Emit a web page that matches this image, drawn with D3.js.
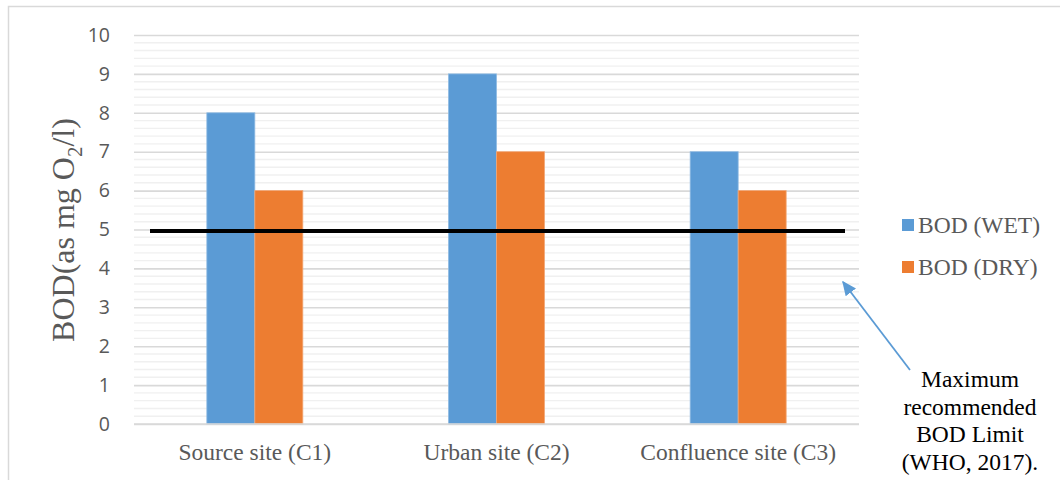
<!DOCTYPE html>
<html>
<head>
<meta charset="utf-8">
<script src="https://cdn.jsdelivr.net/npm/d3@7"></script>
<style>
  html, body { margin: 0; padding: 0; background: #fff; }
  svg { display: block; }
</style>
</head>
<body>
<svg id="chart" width="1060" height="480"></svg>
<script>
// Sampling sites along the river
const categories = ["Source site (C1)", "Urban site (C2)", "Confluence site (C3)"];
// BOD readings (mg O2/l) per season
const seriesNames = ["BOD (WET)", "BOD (DRY)"];
const wetValues = [8, 9, 7];
const dryValues = [6, 7, 6];
const seriesColors = ["#5B9BD5", "#ED7D31"];
// WHO maximum recommended BOD limit
const bodLimit = 5;
const yTicks = [0, 1, 2, 3, 4, 5, 6, 7, 8, 9, 10];
const noteLines = ["Maximum", "recommended", "BOD Limit", "(WHO, 2017)."];

const serif = "'Liberation Serif', 'DejaVu Serif', serif";
const svg = d3.select("#chart");
const plot = { left: 134, right: 859, top: 35, bottom: 424 };

// chart frame
svg.append("rect")
  .attr("x", 8.5).attr("y", 6.5)
  .attr("width", 1100).attr("height", 520)
  .attr("fill", "#fff").attr("stroke", "#d9d9d9").attr("stroke-width", 1.5);

const x = d3.scaleBand().domain(categories).range([plot.left, plot.right]);
const y = d3.scaleLinear().domain([0, 10]).range([plot.bottom, plot.top]);

// minor gridlines every 0.2
const minor = d3.range(0, 50).map(i => i * 0.2).filter(v => Math.abs(v - Math.round(v)) > 1e-6);
svg.append("g").selectAll("line").data(minor).join("line")
  .attr("x1", plot.left).attr("x2", plot.right)
  .attr("y1", d => y(d)).attr("y2", d => y(d))
  .attr("stroke", "#f0f0f0").attr("stroke-width", 1.4);

// major gridlines + tick labels via axis
const yAxis = d3.axisLeft(y).tickValues(yTicks).tickSize(-(plot.right - plot.left)).tickPadding(24).tickFormat(d3.format("d"));
const gy = svg.append("g").attr("transform", `translate(${plot.left},0)`).call(yAxis);
gy.select(".domain").remove();
gy.selectAll(".tick line").attr("stroke", "#d9d9d9").attr("stroke-width", 1.6);
gy.selectAll(".tick text")
  .attr("fill", "#595959")
  .style("font-family", "'Open Sans', 'Liberation Sans', sans-serif")
  .style("font-size", "19.5px");

// bars
const barW = 48;
const groups = categories.map((c, i) => ({ c, vals: [wetValues[i], dryValues[i]] }));
const g = svg.append("g");
groups.forEach(grp => {
  const cx = x(grp.c) + x.bandwidth() / 2;
  grp.vals.forEach((v, k) => {
    g.append("rect")
      .attr("x", cx - barW + k * barW)
      .attr("y", y(v))
      .attr("width", barW)
      .attr("height", y(0) - y(v))
      .attr("fill", seriesColors[k])
      .attr("stroke", k === 0 ? "#8fbbe3" : "#f2a777")
      .attr("stroke-width", 0.8);
  });
});

// x axis baseline and category labels
svg.append("line")
  .attr("x1", plot.left).attr("x2", plot.right)
  .attr("y1", y(0)).attr("y2", y(0))
  .attr("stroke", "#d9d9d9").attr("stroke-width", 1.6);
svg.append("g").selectAll("text").data(categories).join("text")
  .attr("x", d => x(d) + x.bandwidth() / 2)
  .attr("y", 460)
  .attr("text-anchor", "middle")
  .attr("fill", "#595959")
  .style("font-family", serif)
  .style("font-size", "23.5px")
  .text(d => d);

// limit line
svg.append("line")
  .attr("x1", 150).attr("x2", 845)
  .attr("y1", y(bodLimit) + 1.5).attr("y2", y(bodLimit) + 1.5)
  .attr("stroke", "#000").attr("stroke-width", 4);

// y axis title
const yt = svg.append("text")
  .attr("transform", "translate(74,230) rotate(-90)")
  .attr("text-anchor", "middle")
  .attr("fill", "#595959")
  .style("font-family", serif)
  .style("font-size", "32px");
yt.append("tspan").text("BOD(as mg O");
yt.append("tspan").attr("dy", 8).style("font-size", "21px").text("2");
yt.append("tspan").attr("dy", -8).text("/l)");

// legend
const legend = svg.append("g");
seriesNames.forEach((s, i) => {
  const ly = 225 + i * 42;
  legend.append("rect").attr("x", 902).attr("y", ly - 6).attr("width", 12).attr("height", 12).attr("fill", seriesColors[i]);
  legend.append("text")
    .attr("x", 918).attr("y", ly + 7.5)
    .attr("fill", "#595959")
    .style("font-family", serif)
    .style("font-size", "23.5px")
    .text(s);
});

// annotation arrow
const defs = svg.append("defs");
defs.append("marker").attr("id", "arrowhead")
  .attr("viewBox", "0 0 10 10").attr("refX", 9).attr("refY", 5)
  .attr("markerWidth", 8).attr("markerHeight", 8).attr("orient", "auto")
  .attr("markerUnits", "strokeWidth")
  .append("path").attr("d", "M0,0.5 L10,5 L0,9.5 z").attr("fill", "#5B9BD5");
svg.append("line")
  .attr("x1", 910).attr("y1", 370).attr("x2", 843).attr("y2", 282)
  .attr("stroke", "#5B9BD5").attr("stroke-width", 1.8)
  .attr("marker-end", "url(#arrowhead)");

// annotation text
svg.append("g").selectAll("text").data(noteLines).join("text")
  .attr("x", 970)
  .attr("y", (d, i) => 387 + i * 27.5)
  .attr("text-anchor", "middle")
  .attr("fill", "#000")
  .style("font-family", serif)
  .style("font-size", "23.5px")
  .text(d => d);
</script>
</body>
</html>
